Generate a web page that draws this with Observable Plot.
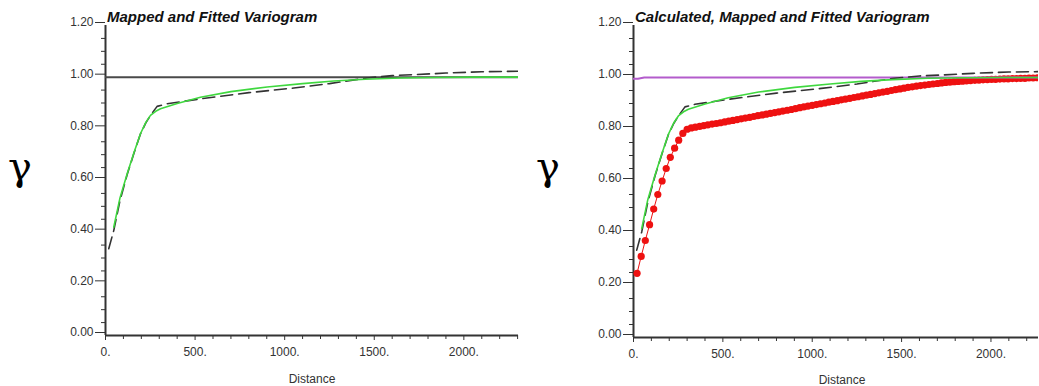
<!DOCTYPE html>
<html>
<head>
<meta charset="utf-8">
<script src="https://cdn.jsdelivr.net/npm/d3@7"></script>
<script src="https://cdn.jsdelivr.net/npm/@observablehq/plot@0.6"></script>
<style>
  body { margin: 0; background: #fff; }
  #wrap { position: relative; width: 1039px; height: 386px; overflow: hidden; background: #fff;
          font-family: 'Liberation Sans', Arial, Helvetica, sans-serif; color: #333; }
  .panel { position: absolute; top: 0; }
  .title { position: absolute; font-size: 15px; font-weight: bold; font-style: italic; line-height: 16px; color: #111; white-space: nowrap; }
  .gamma { position: absolute; font-family: 'DejaVu Serif', 'Liberation Serif', serif; font-size: 40px; line-height: 1; color: #000; }
  .xlab { position: absolute; font-size: 12px; line-height: 14px; transform: translateX(-50%); color: #333; }
</style>
</head>
<body>
<div id="wrap">
  <div id="left" class="panel" style="left:0px"></div>
  <div id="right" class="panel" style="left:520px"></div>
  <div class="title" style="left:107px; top:9px">Mapped and Fitted Variogram</div>
  <div class="title" style="left:635px; top:9px">Calculated, Mapped and Fitted Variogram</div>
  <div class="gamma" style="left:8px; top:146px">γ</div>
  <div class="gamma" style="left:536px; top:146px">γ</div>
  <div class="xlab" style="left:312px; top:372px">Distance</div>
  <div class="xlab" style="left:842px; top:373px">Distance</div>
</div>
<script>
// ---- Tick values ----
const yMajorTicks = [0, 0.2, 0.4, 0.6, 0.8, 1.0, 1.2];
const yMinorTicks = [0.05, 0.1, 0.15, 0.25, 0.3, 0.35, 0.45, 0.5, 0.55, 0.65, 0.7, 0.75, 0.85, 0.9, 0.95, 1.05, 1.1, 1.15];
const xMajorTicks = [0, 500, 1000, 1500, 2000];
const xMinorTicks = [100, 200, 300, 400, 600, 700, 800, 900, 1100, 1200, 1300, 1400, 1600, 1700, 1800, 1900, 2100, 2200, 2300];

// ---- Mapped variogram (green) ----
const mappedDist  = [46, 80, 121, 160, 195, 225, 251, 280, 307, 400, 530, 700, 902, 1100, 1274, 1450, 1646, 1850, 2050, 2310];
const mappedGamma = [0.419, 0.53, 0.626, 0.71, 0.781, 0.825, 0.852, 0.868, 0.878, 0.898, 0.922, 0.944, 0.962, 0.975, 0.985, 0.992, 0.997, 0.999, 1.0, 1.0];

// ---- Fitted variogram (black dashed) ----
const fittedDist  = [18, 46, 80, 121, 160, 195, 225, 251, 288, 344, 530, 800, 1051, 1250, 1460, 1600, 1739, 1900, 2100, 2310];
const fittedGamma = [0.336, 0.406, 0.52, 0.623, 0.708, 0.78, 0.823, 0.852, 0.887, 0.897, 0.916, 0.940, 0.958, 0.975, 0.997, 1.006, 1.010, 1.016, 1.021, 1.023];

// ---- Sill lines ----
const sillLeftDist  = [0, 2310];
const sillLeftGamma = [1.0, 1.0];
const sillRightDist  = [0, 25, 60, 2310];
const sillRightGamma = [0.995, 0.995, 1.0, 1.0];

// ---- Calculated variogram (red points) ----
const calcDist = [20, 43, 66, 90, 113, 136, 160, 183, 206, 230, 253, 276, 300, 323, 346, 370, 393, 416, 440, 463,
  486, 510, 533, 556, 580, 603, 626, 650, 673, 696, 720, 743, 766, 790, 813, 836, 860, 883, 906, 930,
  953, 976, 1000, 1023, 1046, 1070, 1093, 1116, 1140, 1163, 1186, 1210, 1233, 1256, 1280, 1303, 1326, 1350, 1373, 1396,
  1420, 1443, 1466, 1490, 1513, 1536, 1560, 1583, 1606, 1630, 1653, 1676, 1700, 1723, 1746, 1770, 1793, 1816, 1840, 1863,
  1886, 1910, 1933, 1956, 1980, 2003, 2026, 2050, 2073, 2096, 2120, 2143, 2166, 2190, 2213, 2236, 2260, 2283];
const calcGamma = [0.247, 0.312, 0.373, 0.434, 0.494, 0.550, 0.602, 0.650, 0.693, 0.728, 0.759, 0.785, 0.801, 0.806, 0.809, 0.812, 0.815, 0.818, 0.821, 0.823,
  0.826, 0.829, 0.832, 0.835, 0.838, 0.841, 0.844, 0.847, 0.850, 0.853, 0.856, 0.859, 0.862, 0.865, 0.868, 0.871, 0.874, 0.877, 0.880, 0.884,
  0.887, 0.890, 0.893, 0.896, 0.899, 0.902, 0.905, 0.908, 0.911, 0.914, 0.917, 0.920, 0.923, 0.926, 0.929, 0.932, 0.935, 0.938, 0.941, 0.944,
  0.947, 0.950, 0.953, 0.956, 0.959, 0.962, 0.964, 0.967, 0.969, 0.971, 0.973, 0.975, 0.977, 0.979, 0.981, 0.982, 0.984, 0.985, 0.986, 0.987,
  0.988, 0.989, 0.990, 0.991, 0.992, 0.993, 0.993, 0.994, 0.995, 0.995, 0.996, 0.996, 0.997, 0.997, 0.998, 0.998, 0.999, 0.999];

const zip = (xs, ys) => xs.map((x, i) => ({x, y: ys[i]}));
const mapped = zip(mappedDist, mappedGamma);
const fitted = zip(fittedDist, fittedGamma);
const calc = zip(calcDist, calcGamma);

function axes(xMax) {
  return [
    Plot.axisY(yMinorTicks, {tickSize: 4, tickFormat: () => "", label: null, stroke: "#333"}),
    Plot.axisY(yMajorTicks, {tickSize: 10, tickPadding: 2, tickFormat: d3.format(".2f"), dy: -3, label: null, stroke: "#333", fill: "#333", fontSize: 12}),
    Plot.axisX(xMinorTicks, {tickSize: 4, tickFormat: () => "", label: null, stroke: "#333"}),
    Plot.axisX(xMajorTicks, {tickSize: 5, tickPadding: 7, tickFormat: d => `${d}.`, label: null, stroke: "#333", fill: "#333", fontSize: 12}),
    Plot.ruleX([0], {y1: 0, y2: 1.2, stroke: "#333", strokeWidth: 2}),
    Plot.ruleY([0], {x1: 0, x2: xMax, stroke: "#333", strokeWidth: 2})
  ];
}

const common = {
  width: 519, height: 386, marginRight: 1, marginTop: 25,
  style: {fontFamily: "'Liberation Sans', Arial, Helvetica, sans-serif", fontSize: "12px", color: "#333", background: "transparent", overflow: "visible"},
  y: {domain: [0, 1.2], axis: null}
};

const leftXMax = 2305;
const leftPlot = Plot.plot({
  ...common,
  marginLeft: 105, marginBottom: 51,
  x: {domain: [0, leftXMax], axis: null},
  marks: [
    ...axes(leftXMax),
    Plot.line(zip(sillLeftDist, sillLeftGamma), {x: "x", y: "y", stroke: "#4a4a4a", strokeWidth: 2, clip: true}),
    Plot.line(fitted, {x: "x", y: "y", stroke: "#333", strokeWidth: 1.6, strokeDasharray: "12,6", clip: true}),
    Plot.line(mapped, {x: "x", y: "y", stroke: "#3fd83f", strokeWidth: 1.6, clip: true})
  ]
});
document.getElementById("left").append(leftPlot);

const rightXMax = 2266;
const rightPlot = Plot.plot({
  ...common,
  marginLeft: 113, marginBottom: 49,
  x: {domain: [0, rightXMax], axis: null},
  marks: [
    ...axes(rightXMax),
    Plot.line(calc, {x: "x", y: "y", stroke: "#ee1111", strokeWidth: 1, clip: true}),
    Plot.dot(calc, {x: "x", y: "y", r: 3.6, fill: "#ee1111", stroke: "none", clip: true}),
    Plot.line(zip(sillRightDist, sillRightGamma), {x: "x", y: "y", stroke: "#b35ccc", strokeWidth: 2, clip: true}),
    Plot.line(fitted, {x: "x", y: "y", stroke: "#333", strokeWidth: 1.6, strokeDasharray: "12,6", clip: true}),
    Plot.line(mapped, {x: "x", y: "y", stroke: "#3fd83f", strokeWidth: 1.6, clip: true})
  ]
});
document.getElementById("right").append(rightPlot);
</script>
</body>
</html>
